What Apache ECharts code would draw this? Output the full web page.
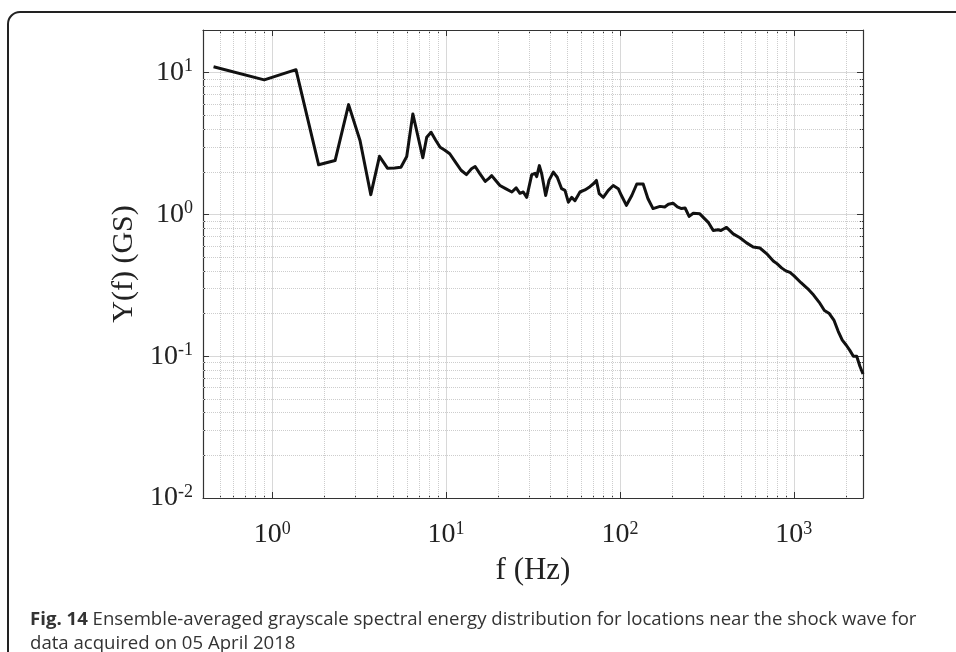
<!DOCTYPE html>
<html>
<head>
<meta charset="utf-8">
<script src="https://cdn.jsdelivr.net/npm/echarts@6/dist/echarts.min.js"></script>
<style>
  html, body { margin: 0; padding: 0; background: #fff; }
  #chart { width: 956px; height: 652px; }
</style>
</head>
<body>
<div id="chart"></div>
<script>
// frequency (Hz) and ensemble-averaged spectral energy Y(f) (GS)
const freqHz = [
  0.46, 0.90, 1.37, 1.85, 2.30, 2.75, 3.20, 3.69, 4.14, 4.60, 5.06, 5.50, 5.94, 6.44, 7.35, 7.74, 8.20, 8.70, 9.24, 9.8,
  10.5, 11.3, 12.2, 13.1, 14.0, 14.7, 15.6, 16.8, 17.5, 18.3, 19.2, 20.4, 22.0, 23.9, 25.3, 26.6, 27.8, 29.1, 31.1, 32.5,
  33.2, 34.4, 35.5, 37.4, 39.1, 41.4, 43.6, 46.2, 48.3, 50.5, 52.8, 55.1, 58.9, 62.9, 67.2, 70.9, 73.2, 76.0, 80.2, 85.7,
  91.5, 97.8, 102, 109, 117, 125, 136, 145, 155, 170, 181, 190, 202, 214, 226, 237, 250, 264, 288, 322,
  344, 367, 381, 410, 448, 490, 535, 584, 638, 697, 762, 800, 850, 900, 950, 1000, 1100, 1200, 1300, 1400,
  1500, 1600, 1700, 1800, 1900, 2000, 2100, 2200, 2300, 2400, 2500
];
const energyGS = [
  11.0, 8.9, 10.5, 2.24, 2.40, 5.95, 3.32, 1.38, 2.57, 2.12, 2.13, 2.15, 2.56, 5.12, 2.51, 3.50, 3.80, 3.35, 2.98, 2.85,
  2.68, 2.35, 2.05, 1.91, 2.10, 2.18, 1.95, 1.71, 1.78, 1.88, 1.75, 1.60, 1.52, 1.44, 1.54, 1.41, 1.44, 1.32, 1.91, 1.95,
  1.85, 2.21, 1.93, 1.36, 1.74, 1.99, 1.83, 1.52, 1.48, 1.22, 1.32, 1.25, 1.44, 1.49, 1.57, 1.66, 1.74, 1.40, 1.32, 1.48,
  1.60, 1.52, 1.36, 1.16, 1.36, 1.64, 1.64, 1.29, 1.10, 1.14, 1.13, 1.18, 1.20, 1.13, 1.10, 1.11, 0.97, 1.02, 1.01, 0.88,
  0.77, 0.78, 0.77, 0.81, 0.73, 0.685, 0.63, 0.59, 0.58, 0.53, 0.47, 0.45, 0.42, 0.40, 0.39, 0.37, 0.33, 0.30, 0.27, 0.24,
  0.21, 0.20, 0.18, 0.15, 0.13, 0.12, 0.11, 0.10, 0.10, 0.085, 0.075
];

const xRange = [0.4, 2500];
const yRange = [0.01, 20];
const xDecades = [0.1, 1, 10, 100, 1000];
const yDecades = [0.01, 0.1, 1, 10];
const minorSteps = [2, 3, 4, 5, 6, 7, 8, 9];

const serif = '"Liberation Serif", "DejaVu Serif", serif';
const sans = '"Open Sans", "Noto Sans", sans-serif';
const ink = '#222';

function minorValues(decades, range) {
  const out = [];
  decades.forEach(d => minorSteps.forEach(s => {
    const v = +(d * s).toPrecision(6);
    if (v > range[0] && v < range[1]) out.push(v);
  }));
  return out;
}
const xMinor = minorValues(xDecades, xRange);
const yMinor = minorValues(yDecades, yRange);

const powerLabel = {
  formatter: v => '{b|10}{s|' + Math.round(Math.log10(v)) + '}',
  rich: {
    b: { fontFamily: serif, fontSize: 28, color: ink, lineHeight: 30 },
    s: { fontFamily: serif, fontSize: 18, color: ink, lineHeight: 12, verticalAlign: 'top' }
  }
};

const frame = { show: true, lineStyle: { color: '#333', width: 1.2 } };

function logAxis(range, position, extra) {
  return Object.assign({
    type: 'log', logBase: 10, min: range[0], max: range[1], position: position,
    axisLine: { show: false }, axisTick: { show: false }, axisLabel: { show: false },
    splitLine: { show: false }, minorTick: { show: false }
  }, extra);
}

const chart = echarts.init(document.getElementById('chart'), null, { renderer: 'canvas' });

chart.setOption({
  animation: false,
  backgroundColor: '#fff',
  title: {
    left: 25, top: 603,
    text: '{b|Fig. 14} Ensemble-averaged grayscale spectral energy distribution for locations near the shock wave for\ndata acquired on 05 April 2018',
    textStyle: {
      fontFamily: sans, fontSize: 18.6, fontWeight: 'normal', color: '#333', lineHeight: 24,
      rich: { b: { fontFamily: sans, fontSize: 18.6, fontWeight: 'bold', color: '#333', lineHeight: 24 } }
    }
  },
  graphic: [
    { type: 'line', silent: true, shape: { x1: 20, y1: 12, x2: 956, y2: 12 }, style: { stroke: '#222', lineWidth: 2 } },
    { type: 'line', silent: true, shape: { x1: 8, y1: 24, x2: 8, y2: 652 }, style: { stroke: '#222', lineWidth: 2 } },
    { type: 'arc', silent: true, shape: { cx: 20, cy: 24, r: 12, startAngle: Math.PI, endAngle: Math.PI * 1.5, clockwise: true },
      style: { stroke: '#222', lineWidth: 2, fill: null } }
  ],
  grid: { left: 203, right: 93, top: 30, bottom: 154, containLabel: false },
  xAxis: [
    logAxis(xRange, 'bottom', {
      name: 'f (Hz)', nameLocation: 'middle', nameGap: 57,
      nameTextStyle: { fontFamily: serif, fontSize: 31, color: ink },
      axisLine: frame,
      axisTick: { show: true, inside: true, length: 6, lineStyle: { color: '#333' } },
      axisLabel: Object.assign({ show: true, margin: 22, showMinLabel: false, showMaxLabel: false }, powerLabel),
      splitLine: { show: true, lineStyle: { color: '#d8d8d8', width: 1 } }
    }),
    logAxis(xRange, 'top', {
      axisLine: frame,
      axisTick: { show: true, inside: true, length: 6, lineStyle: { color: '#333' } }
    }),
    logAxis(xRange, 'bottom', {
      axisTick: { show: true, inside: true, length: 3, customValues: xMinor, lineStyle: { color: '#333' } }
    }),
    logAxis(xRange, 'top', {
      axisTick: { show: true, inside: true, length: 3, customValues: xMinor, lineStyle: { color: '#333' } }
    })
  ],
  yAxis: [
    logAxis(yRange, 'left', {
      name: 'Y(f) (GS)', nameLocation: 'middle', nameGap: 62, nameRotate: 90,
      nameTextStyle: { fontFamily: serif, fontSize: 30, color: ink },
      axisLine: frame,
      axisTick: { show: true, inside: true, length: 6, lineStyle: { color: '#333' } },
      axisLabel: Object.assign({ show: true, margin: 10, showMinLabel: true, showMaxLabel: false }, powerLabel),
      splitLine: { show: true, lineStyle: { color: '#d8d8d8', width: 1 } }
    }),
    logAxis(yRange, 'right', {
      axisLine: frame,
      axisTick: { show: true, inside: true, length: 6, lineStyle: { color: '#333' } }
    }),
    logAxis(yRange, 'left', {
      axisTick: { show: true, inside: true, length: 3, customValues: yMinor, lineStyle: { color: '#333' } }
    }),
    logAxis(yRange, 'right', {
      axisTick: { show: true, inside: true, length: 3, customValues: yMinor, lineStyle: { color: '#333' } }
    })
  ],
  series: [
    {
      // minor (dotted) grid
      type: 'line', data: [], xAxisIndex: 0, yAxisIndex: 0, z: 1, silent: true,
      markLine: {
        silent: true, symbol: 'none', z: 1, animation: false,
        label: { show: false },
        lineStyle: { type: 'dotted', color: '#cdcdcd', width: 1 },
        data: xMinor.map(v => ({ xAxis: v })).concat(yMinor.map(v => ({ yAxis: v })))
      }
    },
    {
      type: 'line', xAxisIndex: 0, yAxisIndex: 0, z: 5,
      data: freqHz.map((f, i) => [f, energyGS[i]]),
      showSymbol: false, symbol: 'none', smooth: false,
      lineStyle: { color: '#111', width: 3, join: 'round' }
    }
  ]
});
</script>
</body>
</html>
